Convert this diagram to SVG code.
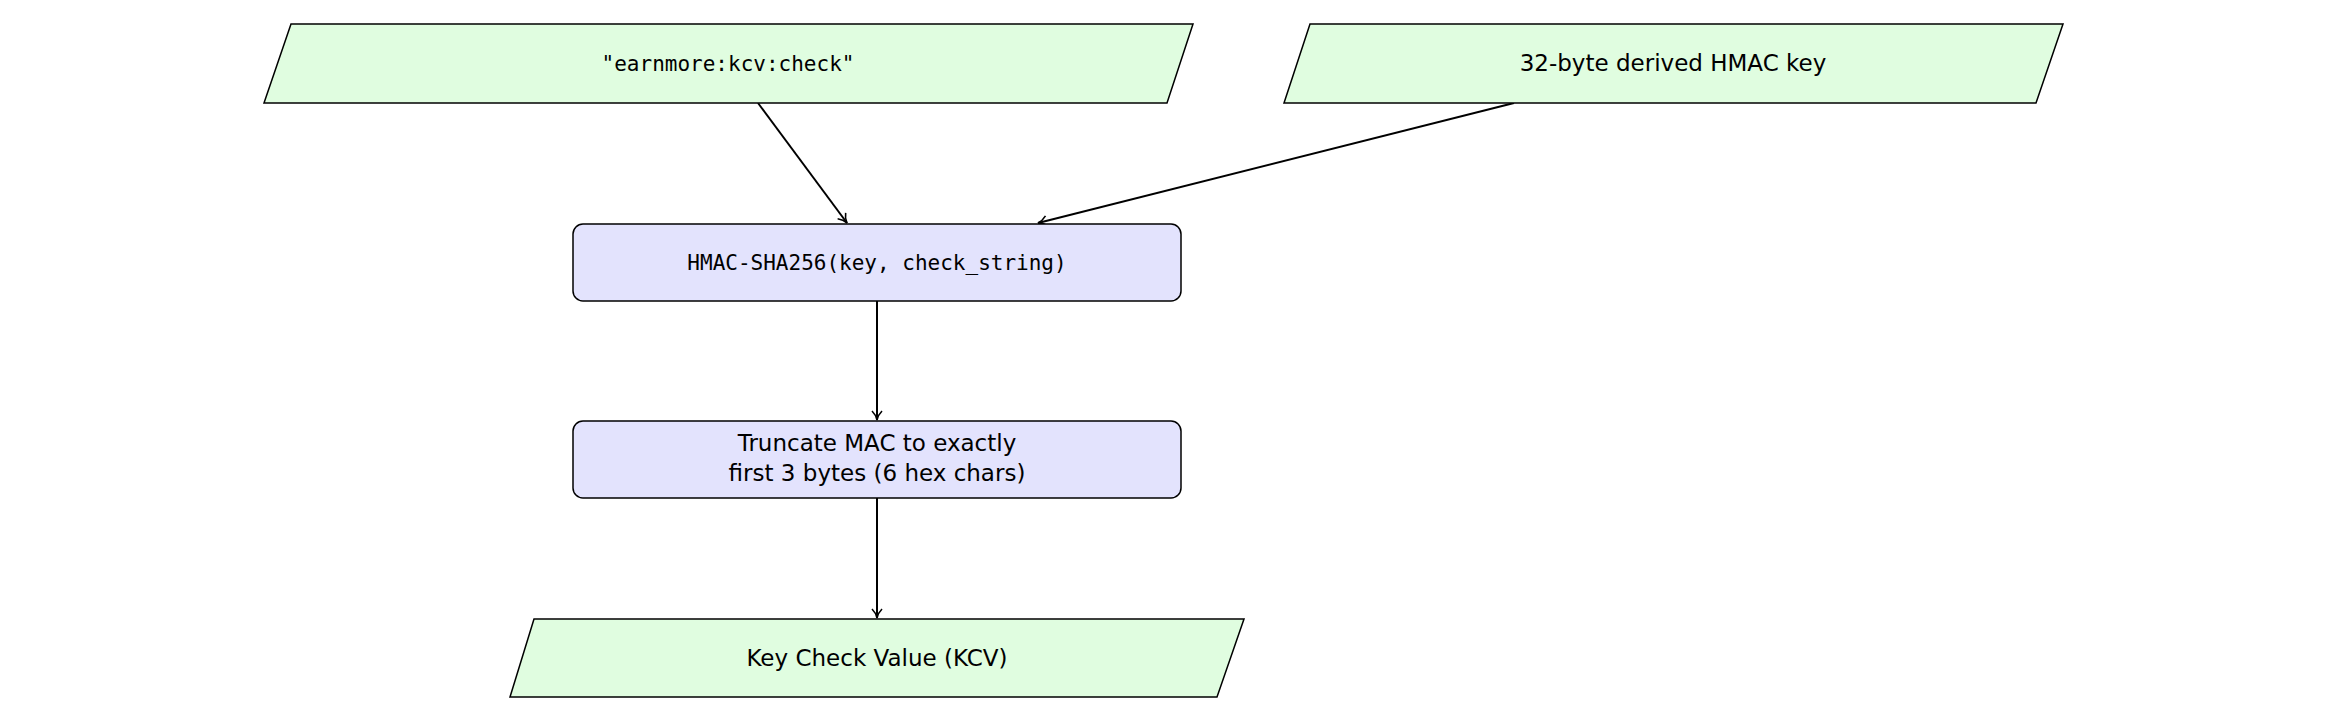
<svg xmlns="http://www.w3.org/2000/svg" width="2339" height="720" viewBox="0 0 2339 720">
<style>
.io{fill:#e0fde0;stroke:#000;stroke-width:1.5}
.pr{fill:#e3e3fd;stroke:#000;stroke-width:1.5}
text{font-family:"DejaVu Sans","Liberation Sans",sans-serif;font-size:23px;text-anchor:middle;fill:#000}
.m{font-family:"DejaVu Sans Mono","Liberation Mono",monospace;font-size:21px}
.c{stroke:#000;stroke-width:2;fill:none;marker-end:url(#a)}
</style>
<defs><marker id="a" markerWidth="12" markerHeight="12" refX="10" refY="6" orient="auto" markerUnits="userSpaceOnUse"><path d="M1,1 Q5,5 10,6 Q5,7 1,11" fill="none" stroke="#000" stroke-width="1.6"/></marker></defs>
<g id="connectors">
<line class="c" x1="758" y1="103" x2="847" y2="223"/>
<line class="c" x1="1514" y1="103" x2="1038" y2="223"/>
<line class="c" x1="877" y1="301" x2="877" y2="420"/>
<line class="c" x1="877" y1="498" x2="877" y2="618"/>
</g>
<g id="n1"><polygon class="io" points="291,24 1193,24 1167,103 264,103"/><text class="m" x="728" y="71">"earnmore:kcv:check"</text></g>
<g id="n2"><polygon class="io" points="1310,24 2063,24 2036,103 1284,103"/><text x="1673" y="71">32-byte derived HMAC key</text></g>
<g id="n3"><rect class="pr" x="573" y="224" width="608" height="77" rx="10"/><text class="m" x="877" y="270">HMAC-SHA256(key, check_string)</text></g>
<g id="n4"><rect class="pr" x="573" y="421" width="608" height="77" rx="10"/><text x="877" y="451">Truncate MAC to exactly</text><text x="877" y="481">first 3 bytes (6 hex chars)</text></g>
<g id="n5"><polygon class="io" points="534,619 1244,619 1217,697 510,697"/><text x="877" y="666">Key Check Value (KCV)</text></g>
</svg>
